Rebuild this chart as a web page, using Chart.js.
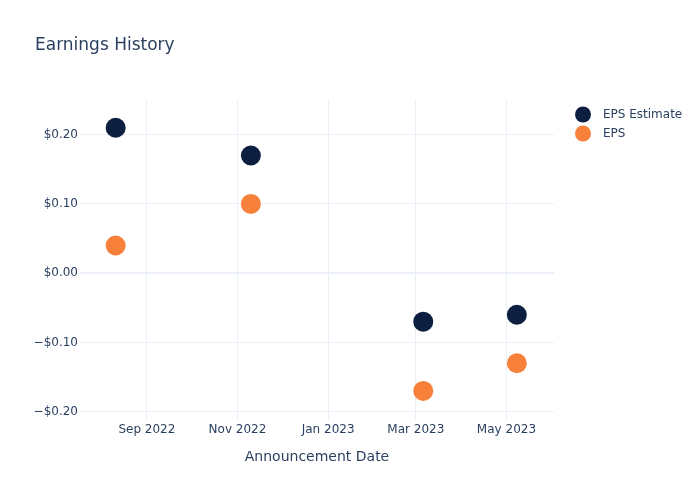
<!DOCTYPE html>
<html><head><meta charset="utf-8">
<script src="https://cdn.jsdelivr.net/npm/chart.js@4/dist/chart.umd.min.js"></script>
<style>html,body{margin:0;padding:0;background:#fff}#wrap{width:700px;height:500px;position:relative}</style>
</head><body><div id="wrap"><canvas id="c" width="700" height="500"></canvas></div>
<script>
const chartTitle = 'Earnings History';
const xAxisTitle = 'Announcement Date';
const seriesNames = ['EPS Estimate', 'EPS'];
const announcementDates = ['2022-08-11', '2022-11-10', '2023-03-06', '2023-05-08'];
const epsEstimate = [0.21, 0.17, -0.07, -0.06];
const epsActual = [0.04, 0.10, -0.17, -0.13];
const xTickDates = ['2022-09-01', '2022-11-01', '2023-01-01', '2023-03-01', '2023-05-01'];
const xTickLabels = ['Sep 2022', 'Nov 2022', 'Jan 2023', 'Mar 2023', 'May 2023'];
const yTickValues = [-0.2, -0.1, 0, 0.1, 0.2];
const xRange = ['2022-07-18', '2023-06-02'];
const yRange = [-0.212, 0.2501];

const seriesColors = ['#0c1f41', '#f7813a'];
const textColor = '#2a3f5f';
const gridColor = '#ebf0f8';
const FONT = '"DejaVu Sans", Verdana, sans-serif';

const t = s => Date.parse(s + 'T00:00:00Z');
const mk = vals => announcementDates.map((d, i) => ({ x: t(d), y: vals[i] }));
const fmtY = v => (v < 0 ? '\u2212' : '') + '$' + Math.abs(v).toFixed(2);

const overlay = {
  id: 'overlay',
  afterDraw(chart) {
    const ctx = chart.ctx, ca = chart.chartArea;
    ctx.save();
    ctx.fillStyle = textColor;
    ctx.textBaseline = 'middle';
    ctx.textAlign = 'left';
    ctx.font = '17px ' + FONT;
    ctx.fillText(chartTitle, 35, 45.5);
    ctx.font = '14px ' + FONT;
    ctx.textAlign = 'center';
    ctx.fillText(xAxisTitle, (ca.left + ca.right) / 2, 457);
    ctx.textAlign = 'left';
    ctx.font = '12px ' + FONT;
    seriesNames.forEach((n, i) => {
      const y = 115 + i * 19;
      ctx.beginPath();
      ctx.arc(583, y - 0.5, 8, 0, Math.PI * 2);
      ctx.fillStyle = seriesColors[i];
      ctx.fill();
      ctx.fillStyle = textColor;
      ctx.fillText(n, 603, y);
    });
    ctx.restore();
  }
};

new Chart(document.getElementById('c'), {
  type: 'scatter',
  data: {
    datasets: [
      { label: seriesNames[0], data: mk(epsEstimate), backgroundColor: seriesColors[0], borderColor: seriesColors[0], pointRadius: 10, pointBorderWidth: 0 },
      { label: seriesNames[1], data: mk(epsActual), backgroundColor: seriesColors[1], borderColor: seriesColors[1], pointRadius: 10, pointBorderWidth: 0 }
    ]
  },
  options: {
    responsive: false,
    animation: false,
    devicePixelRatio: 1,
    layout: { padding: { left: 0, top: 100, right: 146, bottom: 0 } },
    plugins: { legend: { display: false }, tooltip: { enabled: false }, title: { display: false } },
    scales: {
      x: {
        type: 'linear',
        min: t(xRange[0]), max: t(xRange[1]),
        afterBuildTicks: s => { s.ticks = xTickDates.map(d => ({ value: t(d) })); },
        afterFit: s => { s.height = 80; },
        grid: { color: gridColor, lineWidth: 1, drawTicks: false },
        border: { display: false },
        ticks: {
          autoSkip: false, maxRotation: 0, padding: 3,
          color: textColor, font: { family: FONT, size: 12 },
          callback: (v, i) => xTickLabels[i]
        }
      },
      y: {
        min: yRange[0], max: yRange[1],
        afterBuildTicks: s => { s.ticks = yTickValues.map(v => ({ value: v })); },
        afterFit: s => { s.width = 80; },
        grid: { color: gridColor, lineWidth: c => (c.tick && Math.abs(c.tick.value) < 1e-9 ? 2 : 1), drawTicks: false },
        border: { display: false },
        ticks: {
          padding: 2, color: textColor, font: { family: FONT, size: 12 },
          callback: v => fmtY(v)
        }
      }
    }
  },
  plugins: [overlay]
});
</script></body></html>
